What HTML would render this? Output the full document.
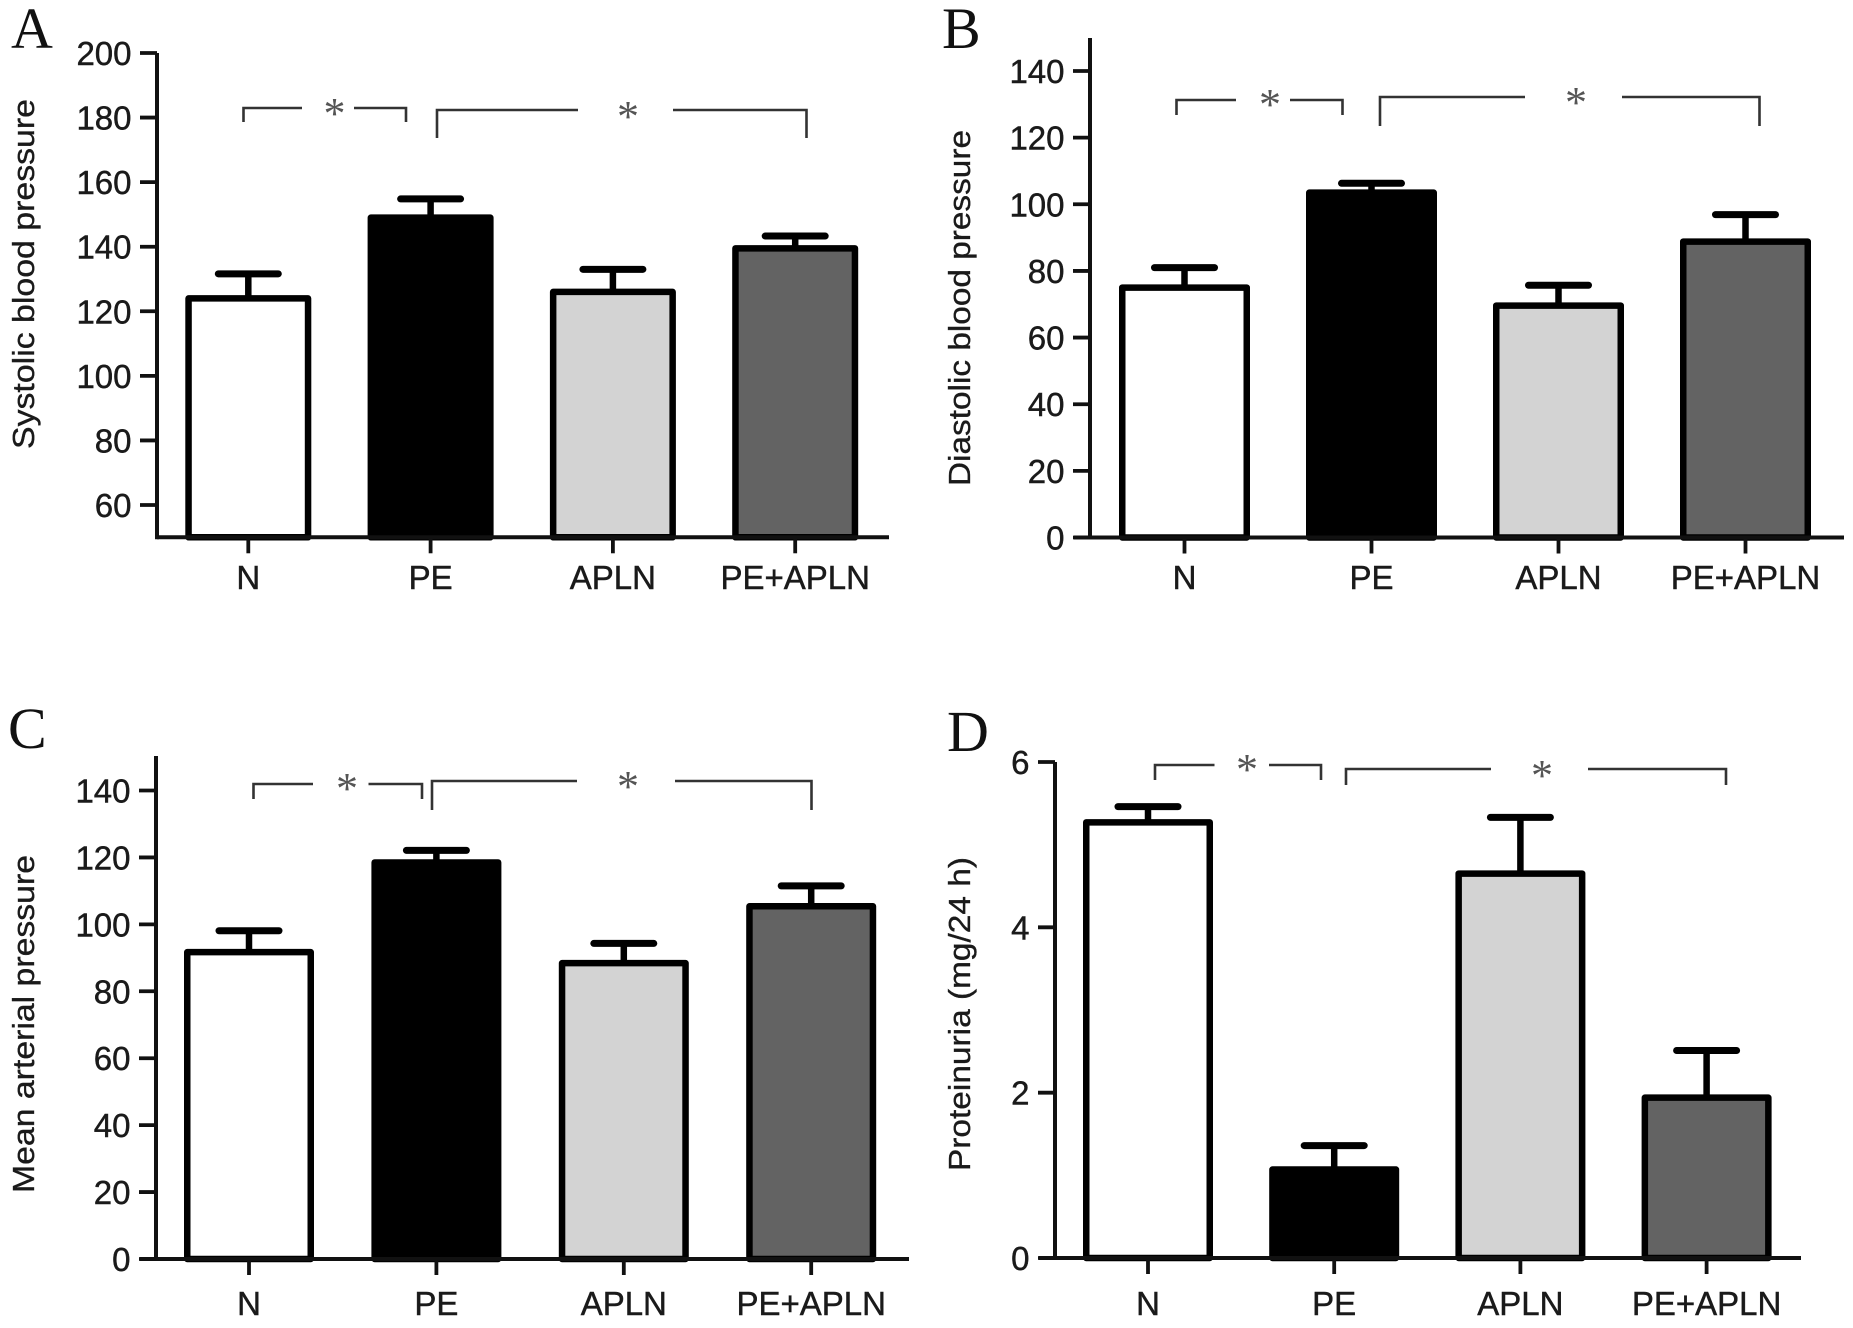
<!DOCTYPE html>
<html lang="en">
<head>
<meta charset="utf-8">
<title>Blood pressure and proteinuria bar charts</title>
<style>
html,body{margin:0;padding:0;background:#fff;}
svg{display:block;}
text{font-family:"Liberation Sans",sans-serif;fill:#1a1a1a;}
.letter{font-family:"Liberation Serif",serif;font-size:58px;fill:#111;}
.title{font-size:31px;stroke:#1a1a1a;stroke-width:.35px;}
.tl{stroke:#1a1a1a;stroke-width:.45px;}
.star{font-family:"Liberation Serif",serif;font-size:44px;fill:#555;text-anchor:middle;}
.br{fill:none;stroke:#333;stroke-width:2.6;}
</style>
</head>
<body>
<svg id="figure" width="1853" height="1328" viewBox="0 0 1853 1328" xmlns="http://www.w3.org/2000/svg">
  <rect width="1853" height="1328" fill="#fff"/>

  <g id="panel-a">
    <text class="letter" x="11" y="48">A</text>
    <text class="title" transform="translate(34,274) rotate(-90)" text-anchor="middle" textLength="350" lengthAdjust="spacingAndGlyphs">Systolic blood pressure</text>
    <path class="br" d="M243.5 122V108H302"/>
    <path class="br" d="M354 108H406V122"/>
    <text class="star" x="334.5" y="128">*</text>
    <path class="br" d="M437 138V110H578"/>
    <path class="br" d="M673 110H806.5V138"/>
    <text class="star" x="628" y="131">*</text>
  </g>

  <g id="panel-b">
    <text class="letter" x="942" y="48">B</text>
    <text class="title" transform="translate(970,308) rotate(-90)" text-anchor="middle" textLength="356" lengthAdjust="spacingAndGlyphs">Diastolic blood pressure</text>
    <path class="br" d="M1176.5 115V100H1236"/>
    <path class="br" d="M1290 100H1342.5V115"/>
    <text class="star" x="1270" y="119">*</text>
    <path class="br" d="M1380 126V97H1525"/>
    <path class="br" d="M1622 97H1759.5V126"/>
    <text class="star" x="1576" y="117">*</text>
  </g>

  <g id="panel-c">
    <text class="letter" x="8" y="748">C</text>
    <text class="title" transform="translate(34,1024) rotate(-90)" text-anchor="middle" textLength="338" lengthAdjust="spacingAndGlyphs">Mean arterial pressure</text>
    <path class="br" d="M253.5 799V784H313"/>
    <path class="br" d="M368.5 784H422V799"/>
    <text class="star" x="347" y="803">*</text>
    <path class="br" d="M432 810V781H577"/>
    <path class="br" d="M675 781H811.5V810"/>
    <text class="star" x="628" y="801">*</text>
  </g>

  <g id="panel-d">
    <text class="letter" x="947" y="751">D</text>
    <text class="title" transform="translate(970,1014) rotate(-90)" text-anchor="middle" textLength="314" lengthAdjust="spacingAndGlyphs">Proteinuria (mg/24 h)</text>
    <path class="br" d="M1155 780V765H1214.5"/>
    <path class="br" d="M1269 765H1321V780"/>
    <text class="star" x="1247" y="784">*</text>
    <path class="br" d="M1346 785V769H1491"/>
    <path class="br" d="M1588 769H1726V785"/>
    <text class="star" x="1542" y="790">*</text>
  </g>
</svg>

<script>
// Chart data
const categories = ['N', 'PE', 'APLN', 'PE+APLN'];
const barFills = ['#ffffff', '#000000', '#d3d3d3', '#636363'];

const systolicTicks = [60, 80, 100, 120, 140, 160, 180, 200];
const systolicMeans = [124, 149, 126, 139.5];
const systolicErrors = [7.6, 5.8, 7, 3.8];

const diastolicTicks = [0, 20, 40, 60, 80, 100, 120, 140];
const diastolicMeans = [75, 103.5, 69.6, 88.8];
const diastolicErrors = [6, 2.8, 6.1, 8.1];

const arterialTicks = [0, 20, 40, 60, 80, 100, 120, 140];
const arterialMeans = [91.7, 118.5, 88.4, 105.4];
const arterialErrors = [6.4, 3.6, 5.9, 6.1];

const proteinuriaTicks = [0, 2, 4, 6];
const proteinuriaMeans = [5.27, 1.07, 4.65, 1.94];
const proteinuriaErrors = [0.19, 0.29, 0.68, 0.57];

const SVG_NS = 'http://www.w3.org/2000/svg';

function make(tag, parent, attrs) {
  const el = document.createElementNS(SVG_NS, tag);
  for (const key in attrs) el.setAttribute(key, attrs[key]);
  parent.appendChild(el);
  return el;
}

function drawPanel(panelId, key, ticks, means, errors, layout) {
  const panel = document.getElementById(panelId);
  const span = layout.domainTop - layout.domainBottom;
  const yScale = v => layout.yBottom + (v - layout.domainBottom) / span * (layout.yTop - layout.yBottom);
  const xScale = i => layout.firstCenter + i * layout.step;
  const baseY = yScale(layout.baseValue);

  categories.forEach((cat, i) => {
    const cx = xScale(i);
    const halfBar = (layout.barWidth - 6.5) / 2;
    const top = yScale(means[i]);
    const capY = yScale(means[i] + errors[i]);

    const stem = make('line', panel, {x1: cx, x2: cx, y1: top, y2: capY, stroke: '#000', 'stroke-width': 6.5});
    
    

    const cap = make('line', panel, {x1: cx - 30, x2: cx + 30, y1: capY, y2: capY, stroke: '#000', 'stroke-width': 7, 'stroke-linecap': 'round'});
    
    

    const bar = make('rect', panel, {x: cx - halfBar, y: top, width: halfBar * 2, height: baseY - top, fill: barFills[i], stroke: '#000', 'stroke-width': 6.5, 'stroke-linejoin': 'round'});
    
    

    const tick = make('line', panel, {x1: cx, x2: cx, y1: baseY, y2: baseY + 16, stroke: '#111', 'stroke-width': 3.8});
    
    

    const label = make('text', panel, {x: cx, y: layout.labelY, 'text-anchor': 'middle', 'font-size': 33, class: 'tl'});
    label.textContent = cat;
    
    
  });

  const yAxis = make('line', panel, {x1: layout.axisX, x2: layout.axisX, y1: layout.axisTop, y2: baseY + 2, stroke: '#111', 'stroke-width': 4});
  
  

  const xAxis = make('line', panel, {x1: layout.xAxisStart, x2: layout.xAxisEnd, y1: baseY, y2: baseY, stroke: '#111', 'stroke-width': 4});
  
  

  ticks.forEach((t, i) => {
    const y = yScale(t);
    const tick = make('line', panel, {x1: layout.axisX - 17, x2: layout.axisX, y1: y, y2: y, stroke: '#111', 'stroke-width': 3.8});
    
    

    const label = make('text', panel, {x: layout.axisX - 25.5, y: y + 12, 'text-anchor': 'end', 'font-size': 33, class: 'tl'});
    label.textContent = String(t);
    
    
  });
}

drawPanel('panel-a', 'systolic', systolicTicks, systolicMeans, systolicErrors, {
  domainBottom: 60, domainTop: 200, yBottom: 505, yTop: 53, baseValue: 50,
  firstCenter: 248.3, step: 182.3, barWidth: 126,
  axisX: 157, axisTop: 53, xAxisStart: 157, xAxisEnd: 889, labelY: 589
});
drawPanel('panel-b', 'diastolic', diastolicTicks, diastolicMeans, diastolicErrors, {
  domainBottom: 0, domainTop: 140, yBottom: 537.5, yTop: 71, baseValue: 0,
  firstCenter: 1184.5, step: 187, barWidth: 131,
  axisX: 1090, axisTop: 38, xAxisStart: 1074, xAxisEnd: 1844, labelY: 589
});
drawPanel('panel-c', 'arterial', arterialTicks, arterialMeans, arterialErrors, {
  domainBottom: 0, domainTop: 140, yBottom: 1259, yTop: 790.5, baseValue: 0,
  firstCenter: 249, step: 187.4, barWidth: 130,
  axisX: 156, axisTop: 756, xAxisStart: 140, xAxisEnd: 909, labelY: 1315
});
drawPanel('panel-d', 'proteinuria', proteinuriaTicks, proteinuriaMeans, proteinuriaErrors, {
  domainBottom: 0, domainTop: 6, yBottom: 1258, yTop: 762, baseValue: 0,
  firstCenter: 1148, step: 186.2, barWidth: 130,
  axisX: 1055, axisTop: 762, xAxisStart: 1039, xAxisEnd: 1801, labelY: 1315
});
</script>
</body>
</html>
